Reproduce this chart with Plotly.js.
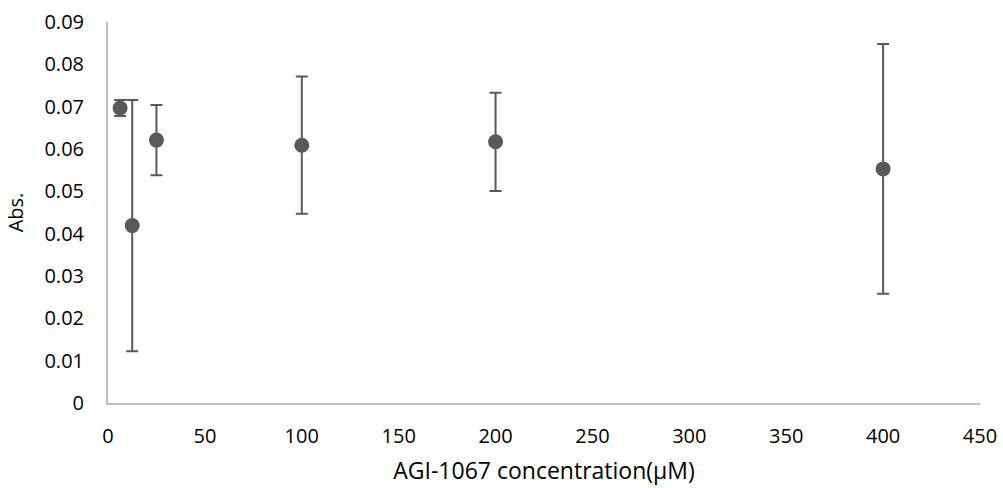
<!DOCTYPE html>
<html>
<head>
<meta charset="utf-8">
<script src="https://cdn.plot.ly/plotly-3.0.1.min.js"></script>
<style>html,body{margin:0;padding:0;background:#fff;}#chart{width:1003px;height:488px;}</style>
</head>
<body>
<div id="chart"></div>
<script>
const concentrations = [6.25, 12.5, 25, 100, 200, 400];
const absValues = [0.0697, 0.0419, 0.0621, 0.0609, 0.0617, 0.0553];
const errorValues = [0.0019, 0.0297, 0.0083, 0.0162, 0.0116, 0.0295];
const xTitle = 'AGI-1067 concentration(μM)';
const yTitle = 'Abs.';

const trace = {
  x: concentrations,
  y: absValues,
  type: 'scatter',
  mode: 'markers',
  marker: {color: '#595959', size: 15},
  error_y: {type: 'data', array: errorValues, visible: true, color: '#595959', thickness: 2, width: 6},
  hoverinfo: 'x+y'
};

const fam = '"Open Sans", "Noto Sans", sans-serif';
const tickFont = {family: fam, size: 20, color: '#000'};
const layout = {
  width: 1003, height: 488,
  margin: {l: 108, r: 23, t: 22, b: 85},
  paper_bgcolor: '#fff', plot_bgcolor: '#fff',
  showlegend: false,
  font: tickFont,
  xaxis: {
    range: [0, 450], dtick: 50, tick0: 0,
    showgrid: false, zeroline: false,
    showline: true, linecolor: '#bfbfbf', linewidth: 2,
    ticks: '', tickfont: tickFont, ticklabelstandoff: 14,
    title: {text: xTitle, font: {family: fam, size: 23, color: '#000'}, standoff: 15}
  },
  yaxis: {
    range: [0, 0.09], dtick: 0.01, tick0: 0,
    showgrid: false, zeroline: false,
    showline: true, linecolor: '#bfbfbf', linewidth: 2,
    ticks: '', tickfont: tickFont, ticklabelstandoff: 18,
    title: {text: yTitle, font: {family: fam, size: 20, color: '#000'}, standoff: 15}
  }
};
Plotly.newPlot('chart', [trace], layout, {displayModeBar: false, staticPlot: true});
</script>
</body>
</html>
